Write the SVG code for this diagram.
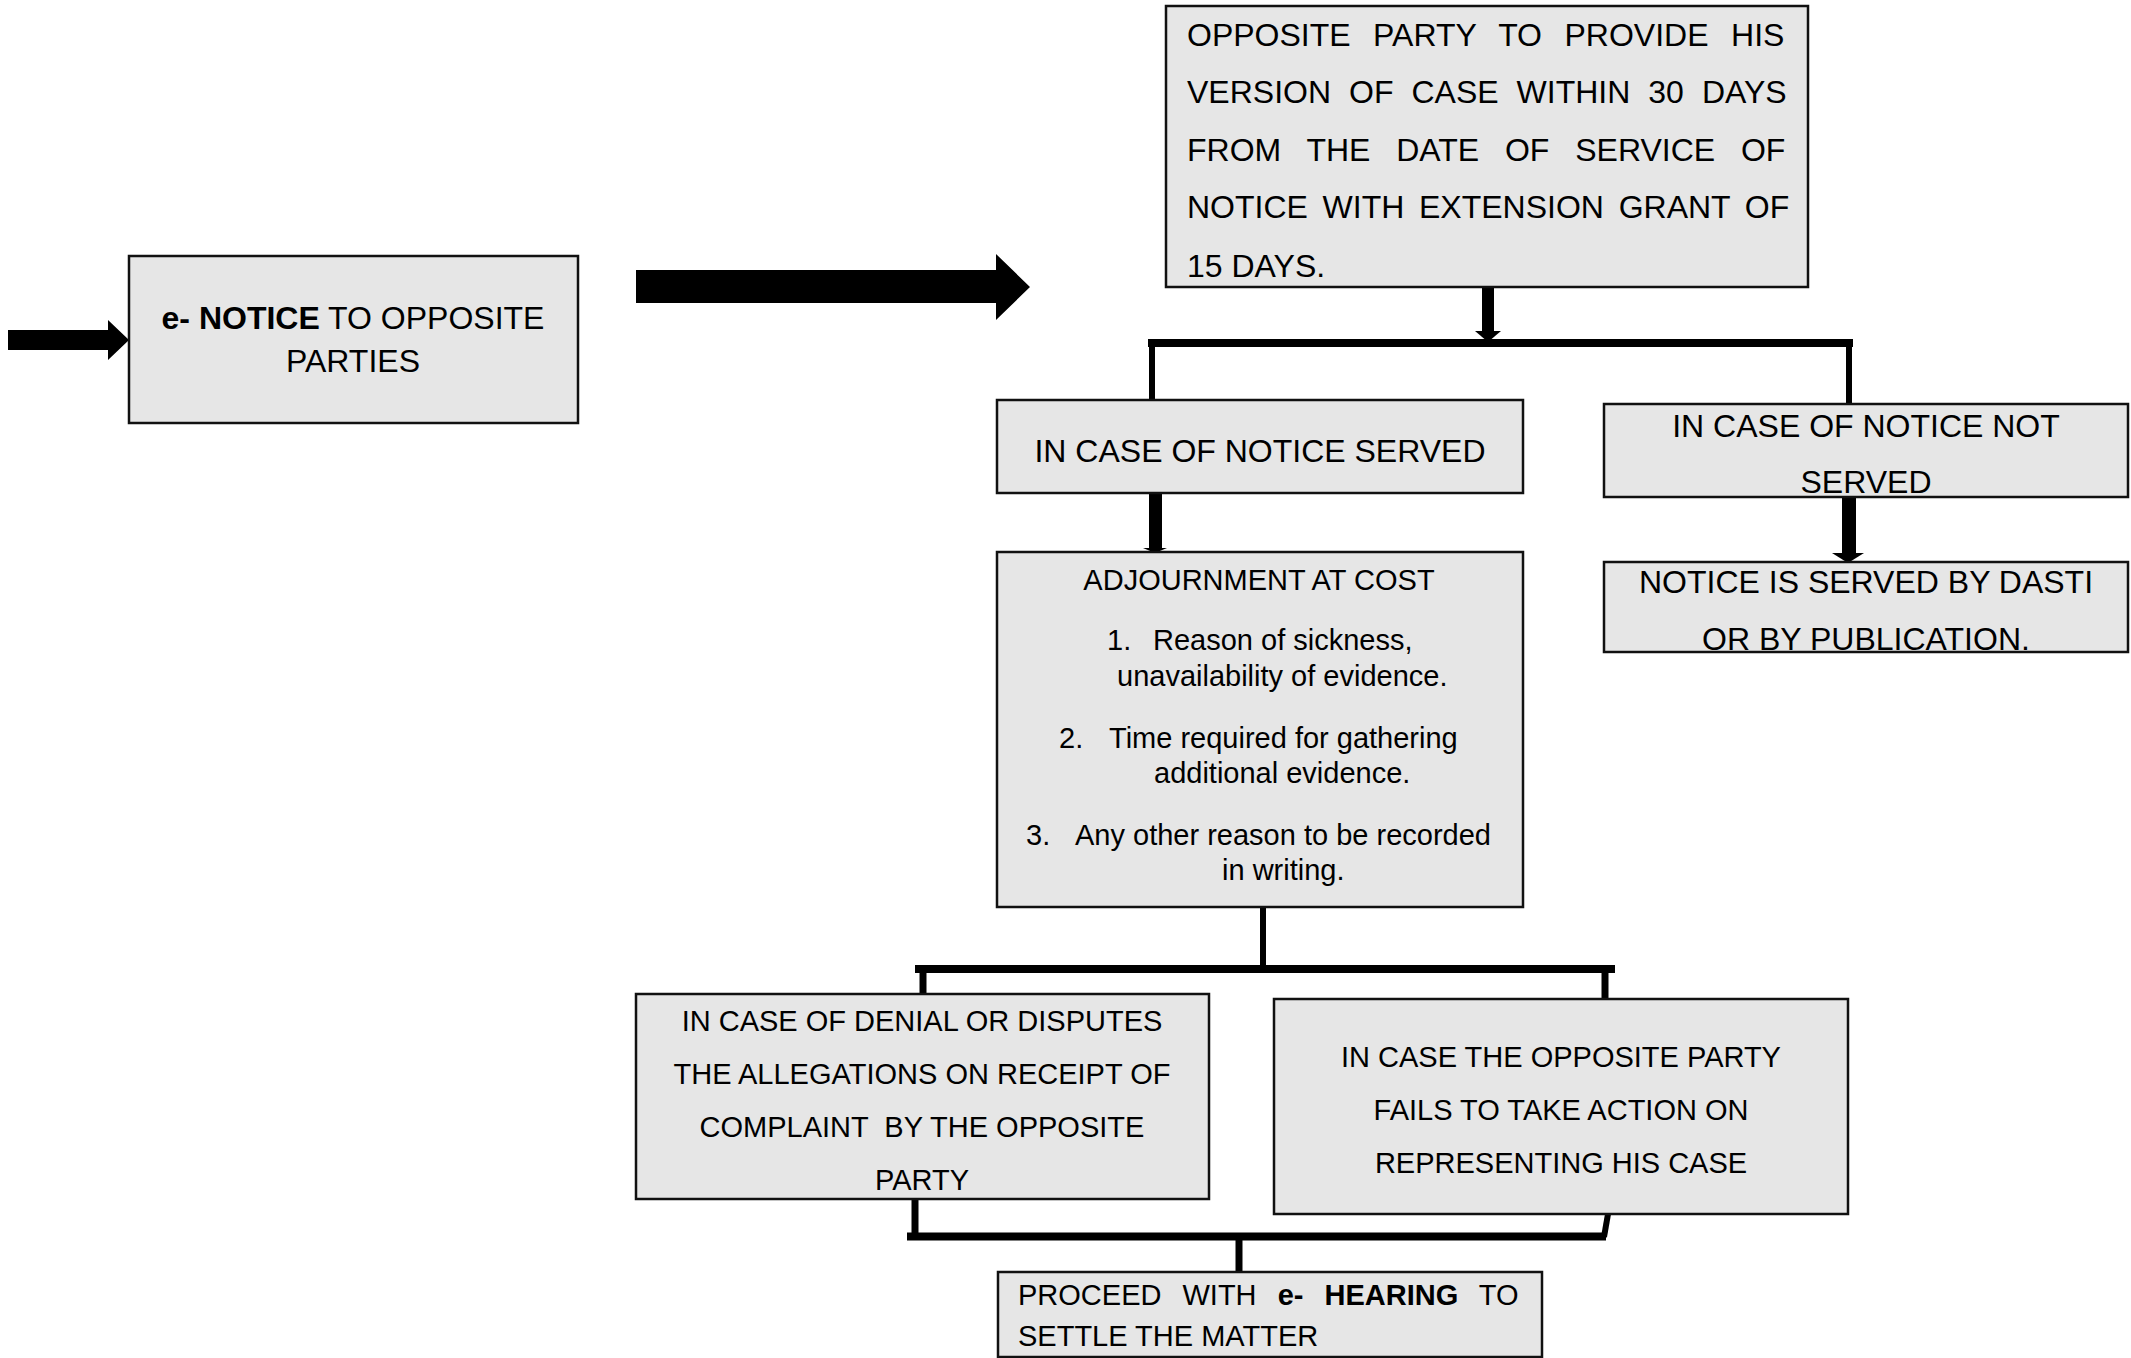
<svg xmlns="http://www.w3.org/2000/svg" width="2131" height="1358" viewBox="0 0 2131 1358">
<style>
.box{fill:#e6e6e6;stroke:#111;stroke-width:2.5}
.t{font-family:"Liberation Sans",Arial,sans-serif;fill:#000}
.f32{font-size:32px}
.f29{font-size:29px}
.c{text-anchor:middle}
.b{font-weight:bold}
.ln{stroke:#000;fill:none;stroke-linecap:butt}
.fill{fill:#000;stroke:none}
</style>
<rect width="2131" height="1358" fill="#fff"/>
<g id="connectors">
<polygon class="fill" points="8,330 108,330 108,320 129,340 108,360 108,350 8,350"/>
<polygon class="fill" points="636,270 996,270 996,254 1030,287 996,320 996,303 636,303"/>
<rect class="fill" x="1482" y="287" width="12" height="45"/>
<polygon class="fill" points="1475,331 1501,331 1488,342"/>
<line class="ln" x1="1148" y1="343" x2="1853" y2="343" stroke-width="8"/>
<line class="ln" x1="1152" y1="343" x2="1152" y2="401" stroke-width="6"/>
<line class="ln" x1="1849" y1="343" x2="1849" y2="404" stroke-width="6"/>
<rect class="fill" x="1149" y="493" width="13" height="56"/>
<polygon class="fill" points="1143,548 1167,548 1155,553"/>
<rect class="fill" x="1842" y="497" width="14" height="57"/>
<polygon class="fill" points="1832,553 1864,553 1848,563"/>
<line class="ln" x1="1263" y1="907" x2="1263" y2="966" stroke-width="6"/>
<line class="ln" x1="915" y1="969" x2="1615" y2="969" stroke-width="8"/>
<line class="ln" x1="923" y1="969" x2="923" y2="994" stroke-width="7"/>
<line class="ln" x1="1605" y1="969" x2="1605" y2="999" stroke-width="7"/>
<line class="ln" x1="915" y1="1199" x2="915" y2="1234" stroke-width="7"/>
<line class="ln" x1="1608" y1="1214" x2="1604" y2="1237" stroke-width="6"/>
<line class="ln" x1="907" y1="1236.5" x2="1606" y2="1236.5" stroke-width="8"/>
<line class="ln" x1="1239" y1="1240" x2="1239" y2="1272" stroke-width="7"/>
</g>
<g id="node-enotice">
<rect class="box" x="129" y="256" width="449" height="167"/>
<text class="t f32 c" x="353" y="329"><tspan class="b">e- NOTICE</tspan> TO OPPOSITE</text>
<text class="t f32 c" x="353" y="372">PARTIES</text>
</g>
<g id="node-opposite-party">
<rect class="box" x="1166" y="6" width="642" height="281"/>
<text class="t f32" x="1187" y="46" word-spacing="13.6">OPPOSITE PARTY TO PROVIDE HIS</text>
<text class="t f32" x="1187" y="103" word-spacing="9.1">VERSION OF CASE WITHIN 30 DAYS</text>
<text class="t f32" x="1187" y="161" word-spacing="16.9">FROM THE DATE OF SERVICE OF</text>
<text class="t f32" x="1187" y="218" word-spacing="5.8">NOTICE WITH EXTENSION GRANT OF</text>
<text class="t f32" x="1187" y="277">15 DAYS.</text>
</g>
<g id="node-served">
<rect class="box" x="997" y="400" width="526" height="93"/>
<text class="t f32 c" x="1260" y="462">IN CASE OF NOTICE SERVED</text>
</g>
<g id="node-not-served">
<rect class="box" x="1604" y="404" width="524" height="93"/>
<text class="t f32 c" x="1866" y="437">IN CASE OF NOTICE NOT</text>
<text class="t f32 c" x="1866" y="493">SERVED</text>
</g>
<g id="node-dasti">
<rect class="box" x="1604" y="562" width="524" height="90"/>
<text class="t f32 c" x="1866" y="593">NOTICE IS SERVED BY DASTI</text>
<text class="t f32 c" x="1866" y="650">OR BY PUBLICATION.</text>
</g>
<g id="node-adjournment">
<rect class="box" x="997" y="552" width="526" height="355"/>
<text class="t f29 c" x="1259" y="590">ADJOURNMENT AT COST</text>
<text class="t f29" x="1107" y="650">1.</text>
<text class="t f29" x="1153" y="650">Reason of sickness,</text>
<text class="t f29" x="1117" y="686">unavailability of evidence.</text>
<text class="t f29" x="1059" y="748">2.</text>
<text class="t f29" x="1109" y="748">Time required for gathering</text>
<text class="t f29" x="1154" y="783">additional evidence.</text>
<text class="t f29" x="1026" y="845">3.</text>
<text class="t f29" x="1075" y="845">Any other reason to be recorded</text>
<text class="t f29" x="1222" y="880">in writing.</text>
</g>
<g id="node-denial">
<rect class="box" x="636" y="994" width="573" height="205"/>
<text class="t f29 c" x="922" y="1031">IN CASE OF DENIAL OR DISPUTES</text>
<text class="t f29 c" x="922" y="1084">THE ALLEGATIONS ON RECEIPT OF</text>
<text class="t f29 c" x="922" y="1137" xml:space="preserve">COMPLAINT  BY THE OPPOSITE</text>
<text class="t f29 c" x="922" y="1190">PARTY</text>
</g>
<g id="node-fails">
<rect class="box" x="1274" y="999" width="574" height="215"/>
<text class="t f29 c" x="1561" y="1067">IN CASE THE OPPOSITE PARTY</text>
<text class="t f29 c" x="1561" y="1120">FAILS TO TAKE ACTION ON</text>
<text class="t f29 c" x="1561" y="1173">REPRESENTING HIS CASE</text>
</g>
<g id="node-hearing">
<rect class="box" x="998" y="1272" width="544" height="85"/>
<text class="t f29" x="1018" y="1305" word-spacing="13">PROCEED WITH <tspan class="b">e- HEARING</tspan> TO</text>
<text class="t f29" x="1018" y="1346">SETTLE THE MATTER</text>
</g>
</svg>
